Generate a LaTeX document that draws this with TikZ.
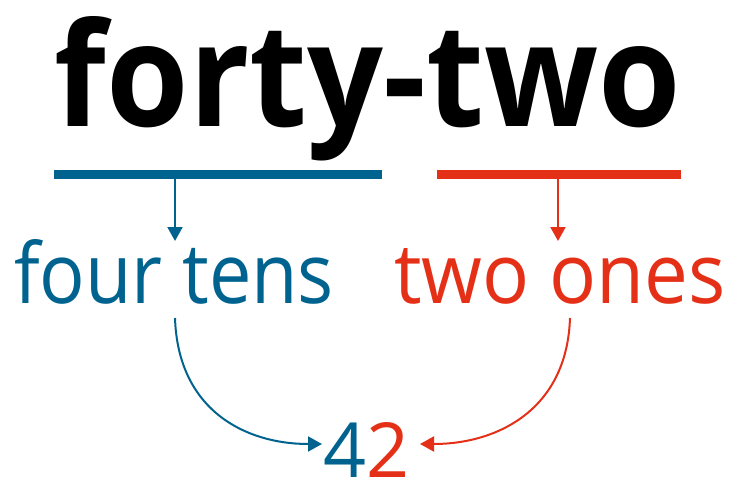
\documentclass[tikz,border=0pt]{standalone}
\usepackage{fontspec}
\setmainfont{Open Sans}
\usetikzlibrary{arrows.meta}
\definecolor{tblue}{RGB}{0,99,143}
\definecolor{ored}{RGB}{229,48,24}
\begin{document}
\begin{tikzpicture}[x=1pt,y=-1pt,
  lbl/.style={inner sep=0pt, outer sep=0pt, anchor=base west},
  barbox/.style={inner sep=0pt, outer sep=0pt, minimum height=9pt, anchor=north west},
  conn/.style={line width=2pt, -{Triangle[length=14pt,width=15pt]}}]
\useasboundingbox (0,0) rectangle (732,480);
\node[lbl] (title) at (55,126) {\resizebox{626pt}{110pt}{\bfseries forty-two}};
\node[barbox, fill=tblue, minimum width=328pt] (tensbar) at (54,170) {};
\node[barbox, fill=ored, minimum width=244pt] (onesbar) at (437,170) {};
\node[lbl, text=tblue] (tens) at (14,303) {\resizebox{320pt}{64pt}{four tens}};
\node[lbl, text=ored] (ones) at (394,303) {\resizebox{332pt}{55pt}{two ones}};
\node[lbl] (num) at (323,477) {\resizebox{86pt}{55pt}{\textcolor{tblue}{4}\textcolor{ored}{2}}};
\coordinate (tensin) at (175,241);
\coordinate (onesin) at (558,241);
\coordinate (tensout) at (175,318);
\coordinate (onesout) at (570,318);
\coordinate (numleft) at (322,444);
\coordinate (numright) at (420,444);
\draw[conn, tblue] (tensbar.south -| tensin) -- (tensin);
\draw[conn, ored] (onesbar.south -| onesin) -- (onesin);
\draw[conn, tblue] (tensout) .. controls (178,410) and (245,444) .. (numleft);
\draw[conn, ored] (onesout) .. controls (567,410) and (497,444) .. (numright);
\end{tikzpicture}
\end{document}
